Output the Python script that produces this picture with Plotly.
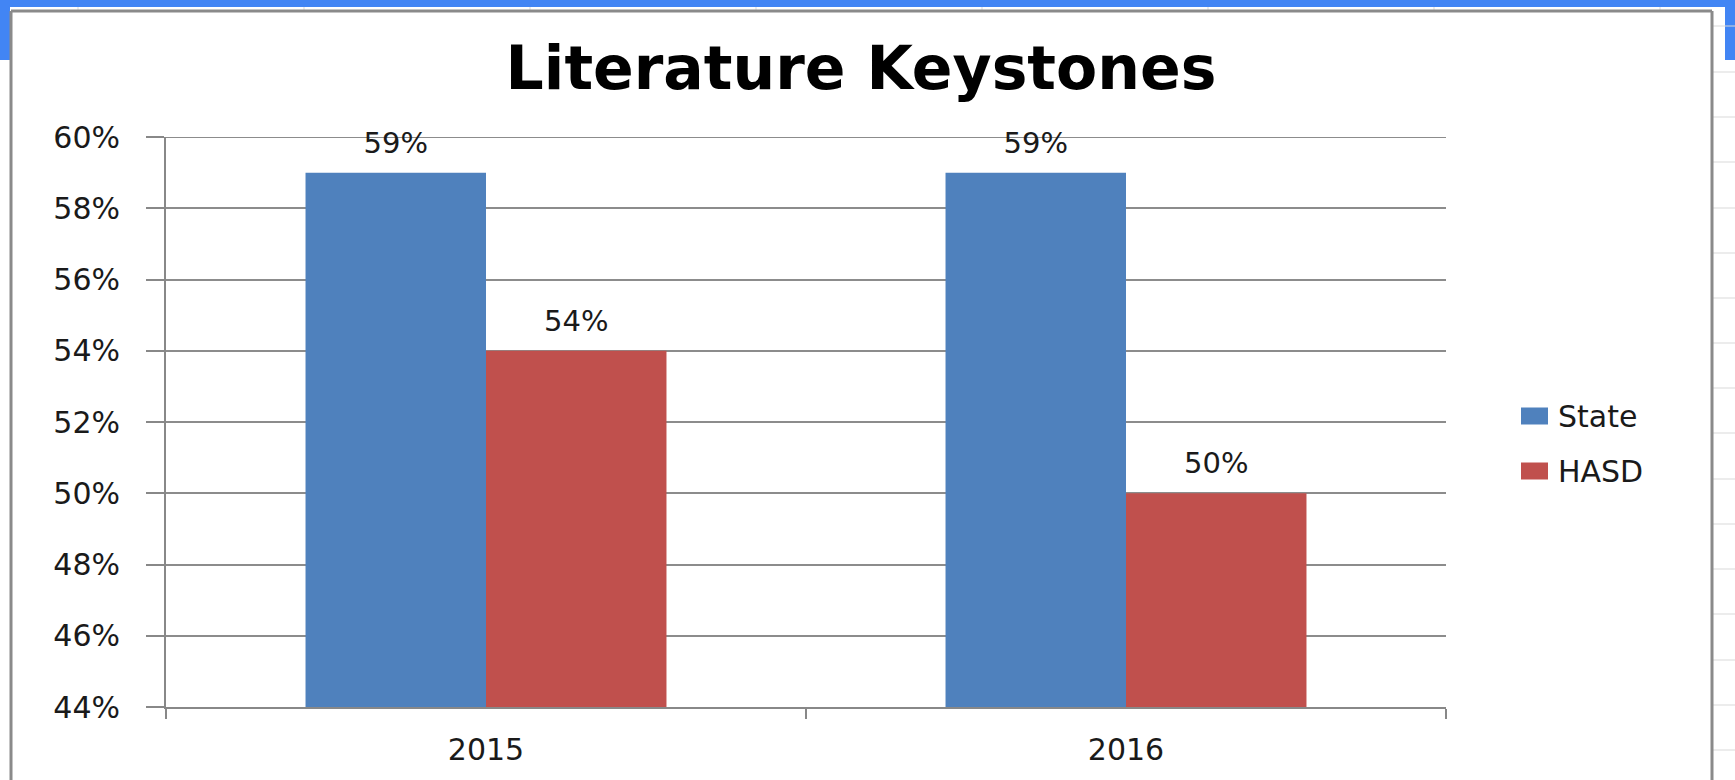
import plotly.graph_objects as go

# ---- data ----
years = ["2015", "2016"]
series_names = ["State", "HASD"]
state_vals = [59, 59]
hasd_vals = [54, 50]
state_labels = ["59%", "59%"]
hasd_labels = ["54%", "50%"]
y_range = [44, 60]
y_step = 2
colors = ["#4F81BD", "#C0504D"]

# ---- layout constants (pixels) ----
W, H = 1735, 780
L, R, T, B = 166, 1446, 137, 707
PW, PH = R - L, B - T
BARGAP = 0.436
FONT = "DejaVu Sans"
TXT = "#1a1a1a"


def px(x):
    return (x - L) / PW


def py(y):
    return (B - y) / PH


fig = go.Figure()
for name, vals, col in zip(series_names, [state_vals, hasd_vals], colors):
    fig.add_trace(go.Bar(x=years, y=vals, name=name, marker=dict(color=col, line=dict(width=0)),
                         showlegend=False, hoverinfo="x+y+name"))

for name, vals, labels in zip(series_names, [state_vals, hasd_vals], [state_labels, hasd_labels]):
    fig.add_trace(go.Scatter(x=years, y=vals, text=labels, mode="markers+text",
                             textposition="top center", name=name,
                             marker=dict(size=19, opacity=0),
                             textfont=dict(family=FONT, size=29, color=TXT),
                             cliponaxis=False, showlegend=False, hoverinfo="skip"))

shapes = []
# top gridline (plotly drops the grid line that sits on the range edge)
shapes.append(dict(type="line", xref="paper", yref="y", x0=0, x1=1, y0=y_range[1], y1=y_range[1],
                   line=dict(color="#8c8c8c", width=2), layer="below"))
# screenshot chrome: blue bar and chart frame
blue = "#4285F4"
shapes.append(dict(type="rect", xref="paper", yref="paper", x0=px(0), x1=px(W), y0=py(0), y1=py(7),
                   fillcolor=blue, line=dict(width=0), layer="above"))
shapes.append(dict(type="rect", xref="paper", yref="paper", x0=px(0), x1=px(10), y0=py(0), y1=py(60),
                   fillcolor=blue, line=dict(width=0), layer="above"))
shapes.append(dict(type="rect", xref="paper", yref="paper", x0=px(1725), x1=px(W), y0=py(0), y1=py(60),
                   fillcolor=blue, line=dict(width=0), layer="above"))
for gx in [78, 304, 530, 756, 982, 1208, 1434, 1660]:
    shapes.append(dict(type="line", xref="paper", yref="paper", x0=px(gx), x1=px(gx), y0=py(7), y1=py(11),
                       line=dict(color="#d9d9d9", width=1)))
for gy in [26, 72, 117, 162, 208, 253, 298, 343, 388, 433, 479, 524, 569, 614, 660, 705, 750]:
    shapes.append(dict(type="line", xref="paper", yref="paper", x0=px(1713), x1=px(W), y0=py(gy), y1=py(gy),
                       line=dict(color="#d9d9d9", width=1)))
frame = "#8a8a8a"
shapes.append(dict(type="line", xref="paper", yref="paper", x0=px(11), x1=px(1712), y0=py(11), y1=py(11),
                   line=dict(color=frame, width=3)))
shapes.append(dict(type="line", xref="paper", yref="paper", x0=px(11), x1=px(11), y0=py(11), y1=py(H + 5),
                   line=dict(color=frame, width=3)))
shapes.append(dict(type="line", xref="paper", yref="paper", x0=px(1712), x1=px(1712), y0=py(11), y1=py(H + 5),
                   line=dict(color=frame, width=3)))

# custom legend
annotations = []
legend_rows = [416, 471]
for name, col, ly in zip(series_names, colors, legend_rows):
    shapes.append(dict(type="rect", xref="paper", yref="paper", x0=px(1521), x1=px(1548),
                       y0=py(ly - 8.5), y1=py(ly + 8.5), fillcolor=col, line=dict(width=0)))
    annotations.append(dict(text=name, xref="paper", yref="paper", x=px(1556), y=py(ly),
                            xanchor="left", yanchor="middle", showarrow=False,
                            font=dict(family=FONT, size=30, color=TXT)))

fig.update_layout(
    width=W, height=H,
    margin=dict(l=L, r=W - R, t=T, b=H - B, pad=0),
    paper_bgcolor="white", plot_bgcolor="white",
    barmode="group", bargap=BARGAP, bargroupgap=0,
    scattermode="group", scattergap=BARGAP,
    title=dict(text="<b>Literature Keystones</b>", x=861 / W, xanchor="center",
               y=1 - 68 / H, yanchor="middle", yref="container",
               font=dict(family=FONT, size=60, color="#000000")),
    shapes=shapes, annotations=annotations,
    showlegend=False,
    xaxis=dict(type="category", showline=True, linecolor="#888888", linewidth=2,
               ticks="outside", tickson="boundaries", ticklen=10, tickwidth=2, tickcolor="#888888",
               showgrid=False, zeroline=False, ticklabelstandoff=15,
               tickfont=dict(family=FONT, size=30, color=TXT)),
    yaxis=dict(range=y_range, dtick=y_step, tick0=y_range[0], ticksuffix="%",
               showline=True, linecolor="#888888", linewidth=2,
               ticks="outside", ticklen=18, tickwidth=2, tickcolor="#888888",
               showgrid=True, gridcolor="#8c8c8c", gridwidth=2, zeroline=False,
               ticklabelstandoff=20,
               tickfont=dict(family=FONT, size=30, color=TXT)),
)

fig.write_html("out.html", config={"displayModeBar": False},
               post_script="document.body.style.margin='0px';")
